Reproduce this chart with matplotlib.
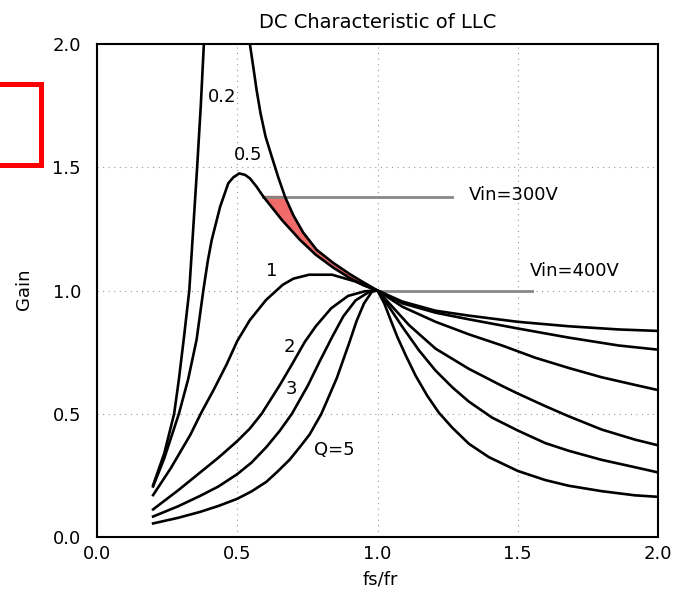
import numpy as np
import matplotlib
matplotlib.use('Agg')
import matplotlib.pyplot as plt
from matplotlib.lines import Line2D

# gain curves (fs/fr, gain), one pair of lists per Q
q02_x = [0.20, 0.24, 0.275, 0.292, 0.31, 0.329, 0.343, 0.357, 0.370, 0.381, np.nan,
         0.545, 0.557, 0.569, 0.583, 0.601, 0.623, 0.646, 0.670, 0.700, 0.735, 0.783,
         0.842, 0.902, 0.950, 1.00,
         1.089, 1.207, 1.326, 1.50, 1.681, 1.859, 2.00]
q02_y = [0.21, 0.34, 0.50, 0.64, 0.81, 1.00, 1.25, 1.50, 1.75, 2.00, np.nan,
         2.00, 1.908, 1.813, 1.719, 1.624, 1.543, 1.460, 1.381, 1.305, 1.235, 1.165,
         1.112, 1.066, 1.033, 1.00,
         0.955, 0.918, 0.898, 0.873, 0.855, 0.842, 0.836]

q05_x = [0.20, 0.24, 0.292, 0.325, 0.355, 0.379, 0.395, 0.409, 0.439, 0.468, 0.486,
         0.507, 0.528, 0.545, 0.569, 0.593, 0.660, 0.724, 0.780, 0.842, 0.902, 0.950,
         1.00, 1.089, 1.207, 1.326, 1.50, 1.681, 1.859, 2.00]
q05_y = [0.205, 0.32, 0.50, 0.64, 0.80, 1.00, 1.12, 1.205, 1.34, 1.435, 1.459,
         1.475, 1.469, 1.455, 1.421, 1.381, 1.285, 1.205, 1.145, 1.093, 1.050, 1.021,
         1.00, 0.948, 0.910, 0.883, 0.846, 0.809, 0.777, 0.760]

q1_x = [0.20, 0.263, 0.333, 0.372, 0.415, 0.462, 0.50, 0.545, 0.603, 0.662, 0.700,
        0.756, 0.838, 0.920, 1.00, 1.089, 1.207, 1.326, 1.444, 1.563, 1.681, 1.799,
        1.918, 2.00]
q1_y = [0.17, 0.279, 0.415, 0.505, 0.595, 0.70, 0.795, 0.88, 0.962, 1.023, 1.048,
        1.064, 1.064, 1.037, 1.00, 0.934, 0.873, 0.822, 0.777, 0.727, 0.686, 0.648,
        0.617, 0.596]

q2_x = [0.20, 0.29, 0.368, 0.433, 0.50, 0.545, 0.587, 0.651, 0.695, 0.74, 0.78, 0.835,
        0.895, 0.955, 1.00, 1.053, 1.113, 1.207, 1.326, 1.444, 1.50, 1.598, 1.681,
        1.799, 1.918, 2.00]
q2_y = [0.112, 0.19, 0.262, 0.322, 0.389, 0.44, 0.50, 0.615, 0.70, 0.79, 0.855, 0.928,
        0.978, 0.997, 1.00, 0.934, 0.859, 0.764, 0.682, 0.613, 0.582, 0.531, 0.490,
        0.436, 0.395, 0.372]

q3_x = [0.20, 0.29, 0.368, 0.433, 0.50, 0.551, 0.604, 0.651, 0.695, 0.752, 0.795, 0.84,
        0.878, 0.922, 0.975, 1.00, 1.041, 1.089, 1.148, 1.207, 1.267, 1.326, 1.409,
        1.50, 1.598, 1.681, 1.799, 1.918, 2.00]
q3_y = [0.083, 0.125, 0.167, 0.205, 0.255, 0.302, 0.365, 0.430, 0.50, 0.615, 0.715, 0.815,
        0.895, 0.96, 0.998, 1.00, 0.934, 0.852, 0.757, 0.675, 0.607, 0.549, 0.484,
        0.432, 0.381, 0.350, 0.313, 0.283, 0.262]

q5_x = [0.20, 0.29, 0.368, 0.433, 0.50, 0.551, 0.604, 0.646, 0.687, 0.724, 0.758, 0.80,
        0.855, 0.90, 0.925, 0.952, 0.98, 1.00, 1.024, 1.047, 1.071, 1.101, 1.136,
        1.178, 1.219, 1.267, 1.326, 1.397, 1.50, 1.598, 1.681, 1.799, 1.918, 2.00]
q5_y = [0.055, 0.078, 0.102, 0.126, 0.155, 0.185, 0.224, 0.268, 0.314, 0.366, 0.416, 0.50,
        0.645, 0.79, 0.875, 0.948, 0.995, 1.00, 0.948, 0.880, 0.811, 0.736, 0.654,
        0.572, 0.504, 0.443, 0.378, 0.324, 0.268, 0.231, 0.208, 0.186, 0.169, 0.163]

# input voltage levels (gain, x start, x end)
vin300 = (1.381, 0.593, 1.264)
vin400 = (1.00, 1.00, 1.55)

curve_labels = ['0.2', '0.5', '1', '2', '3', 'Q=5']
label_x = [0.446, 0.537, 0.624, 0.685, 0.692, 0.845]
label_y = [1.785, 1.550, 1.079, 0.771, 0.600, 0.353]

ticks = [0.0, 0.5, 1.0, 1.5, 2.0]
tick_labels = ['0.0', '0.5', '1.0', '1.5', '2.0']

plt.rcParams['font.family'] = 'DejaVu Sans'

W, H = 673, 598
fig = plt.figure(figsize=(W / 100, H / 100), dpi=100)
ax = fig.add_axes([97 / W, 61 / H, 561 / W, 493 / H])

# red band between Q=0.2 and Q=0.5 from Vin=300V down to resonance
x05, y05 = np.array(q05_x), np.array(q05_y)
x02, y02 = np.array(q02_x), np.array(q02_y)
m05 = (x05 >= vin300[1]) & (x05 <= 1.0)
m02 = (x02 >= 0.67) & (x02 <= 1.0)
band_x = np.concatenate([x05[m05], x02[m02][::-1]])
band_y = np.concatenate([y05[m05], y02[m02][::-1]])
ax.fill(band_x, band_y, facecolor='#f26b6b', edgecolor='#c00000', lw=1.0, zorder=2)

ax.plot([vin300[1], vin300[2]], [vin300[0], vin300[0]], color='#888888', lw=2, zorder=2)
ax.plot([vin400[1], vin400[2]], [vin400[0], vin400[0]], color='#888888', lw=2, zorder=2)

for xs, ys in [(q02_x, q02_y), (q05_x, q05_y), (q1_x, q1_y),
               (q2_x, q2_y), (q3_x, q3_y), (q5_x, q5_y)]:
    ax.plot(xs, ys, color='black', lw=1.9, zorder=3, solid_joinstyle='round')

for t, lx, ly in zip(curve_labels, label_x, label_y):
    ax.text(lx, ly, t, fontsize=13, ha='center', va='center', zorder=4)

ax.text(1.327, 1.387, 'Vin=300V', fontsize=13, ha='left', va='center')
ax.text(1.544, 1.080, 'Vin=400V', fontsize=13, ha='left', va='center')

ax.set_xlim(0, 2)
ax.set_ylim(0, 2)
ax.set_xticks(ticks)
ax.set_xticklabels(tick_labels)
ax.set_yticks(ticks)
ax.set_yticklabels(tick_labels)
ax.tick_params(axis='both', length=0, labelsize=13)
ax.tick_params(axis='x', pad=6)
ax.tick_params(axis='y', pad=11.5)
ax.grid(True, color='#999999', lw=0.8, linestyle=(0, (1, 4)))
ax.set_axisbelow(True)
for s in ax.spines.values():
    s.set_linewidth(1.5)
    s.set_color('black')

fig.text(377.5 / W, 1 - 28 / H, 'DC Characteristic of LLC', fontsize=14,
         ha='center', va='baseline')
fig.text(380 / W, 1 - 580 / H, 'fs/fr', fontsize=13, ha='center', va='center')
fig.text(24.5 / W, 1 - 289.5 / H, 'Gain', fontsize=13, ha='center', va='center',
         rotation=90)

# red bracket at the left edge
fig.add_artist(Line2D(np.array([0, 40.5, 40.5, 0]) / W,
                      1 - np.array([83.5, 83.5, 165, 165]) / H,
                      color='#ff0000', lw=3.6, solid_joinstyle='miter'))

fig.savefig('out.png', dpi=100)
